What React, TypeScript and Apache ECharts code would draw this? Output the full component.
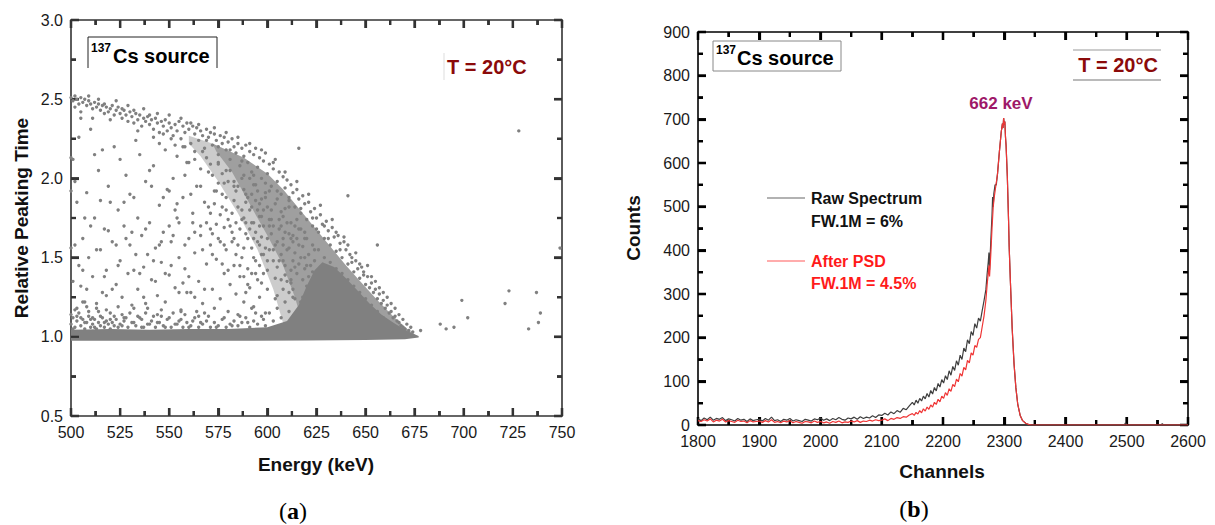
import React, { useEffect, useRef } from "react";
import * as echarts from "echarts";

// ---------- Panel (a): Relative peaking time vs energy ----------
const energyTicks = [500, 525, 550, 575, 600, 625, 650, 675, 700, 725, 750];
const peakingTicks = [0.5, 1.0, 1.5, 2.0, 2.5, 3.0];

// solid core (band at 1.0 + triangle), boundary
const coreUpper: number[][] = [
  [500, 1.045], [520, 1.05], [540, 1.045], [560, 1.05], [580, 1.05], [600, 1.06], [610, 1.1],
  [616, 1.2], [620, 1.32], [624, 1.42], [628, 1.47], [634, 1.44], [640, 1.37], [646, 1.29],
  [652, 1.21], [658, 1.14], [664, 1.09], [670, 1.045], [674, 1.02], [677, 1.005],
];
const coreLower: number[][] = [
  [677, 0.995], [670, 0.985], [650, 0.98], [620, 0.977], [580, 0.975], [540, 0.975], [500, 0.975],
];

// dense region under the upper arc (outer, lighter part and inner, darker part)
const denseUpper: number[][] = [
  [560, 2.27], [572, 2.22], [588, 2.13], [600, 2.03], [608, 1.93], [616, 1.81], [624, 1.69], [632, 1.57],
  [640, 1.45], [648, 1.34], [656, 1.23], [664, 1.13], [672, 1.04], [677, 1.0],
];
const denseOuterInner: number[][] = [
  [610, 1.0], [603, 1.3], [595, 1.55], [585, 1.78], [575, 1.98], [566, 2.14], [560, 2.22],
];
const denseInner: number[][] = [
  [620, 1.0], [614, 1.25], [608, 1.45], [600, 1.64], [590, 1.86], [582, 2.04], [574, 2.17],
];

const upperArc: number[][] = [
  [500,2.51],[501,2.49],[502,2.52],[503,2.50],[504,2.47],[505,2.51],[506,2.48],[507,2.50],[508,2.46],[509,2.49],
  [510,2.47],[511,2.44],[512,2.48],[513,2.45],[514,2.47],[515,2.43],[516,2.46],[517,2.41],[518,2.45],[519,2.42],
  [520,2.44],[521,2.46],[522,2.40],[523,2.43],[524,2.45],[525,2.41],[526,2.38],[527,2.43],[528,2.40],[529,2.36],
  [530,2.42],[531,2.39],[532,2.35],[533,2.41],[534,2.37],[535,2.40],[536,2.33],[537,2.38],[538,2.36],[539,2.39],
  [540,2.34],[541,2.37],[542,2.31],[543,2.38],[544,2.35],[545,2.29],[546,2.36],[547,2.33],[548,2.37],[549,2.30],
  [550,2.35],[551,2.32],[552,2.27],[553,2.34],[554,2.30],[555,2.36],[556,2.25],[557,2.33],[558,2.29],[559,2.35],
  [560,2.31],[561,2.22],[562,2.33],[563,2.28],[564,2.32],[565,2.24],[566,2.30],[567,2.27],[568,2.19],[569,2.31],
  [570,2.26],[571,2.29],[572,2.21],[573,2.28],[574,2.24],[575,2.15],[576,2.27],[577,2.22],[578,2.26],[579,2.18],
  [580,2.23],[581,2.12],[582,2.25],[583,2.20],[584,2.16],[585,2.22],[586,2.08],[587,2.19],[588,2.14],[589,2.21],
  [590,2.10],[591,2.17],[592,2.04],[593,2.15],[594,2.19],[595,2.07],[596,2.13],[597,2.00],[598,2.11],[599,2.16],
  [600,2.03],[601,2.09],[602,1.95],[603,2.06],[604,2.12],[605,1.98],[606,2.04],[607,1.90],[608,2.01],[609,1.94],
  [610,1.99],[611,1.86],[612,1.96],[613,1.91],[614,1.82],[615,1.93],[616,1.87],[617,1.78],[618,1.89],[619,1.84],
  [620,1.74],[621,1.85],[622,1.79],[623,1.70],[624,1.81],[625,1.75],[626,1.66],[627,1.77],[628,1.71],[629,1.62],
  [630,1.73],[631,1.67],[632,1.58],[633,1.69],[634,1.63],[635,1.54],[636,1.64],[637,1.59],[638,1.50],[639,1.60],
  [640,1.55],[641,1.46],[642,1.52],[643,1.47],[644,1.41],[645,1.48],[646,1.43],[647,1.37],[648,1.44],[649,1.39],
  [650,1.33],[651,1.38],[652,1.31],[653,1.34],[654,1.28],[655,1.30],[656,1.24],[657,1.27],[658,1.21],[659,1.23],
  [660,1.18],[661,1.20],[662,1.15],[663,1.16],[664,1.12],[665,1.13],[666,1.10],[667,1.09],[668,1.07],[669,1.06],
  [670,1.05],[672,1.04],[674,1.03],
  [545,2.22],[548,2.18],[551,2.25],[554,2.14],[557,2.20],[560,2.10],[563,2.17],[566,2.06],[569,2.13],[572,2.02],
  [575,2.09],[578,1.97],[581,2.05],[584,1.92],[587,2.00],[590,1.88],[593,1.96],[596,1.84],[599,1.91],[602,1.80],
  [605,1.87],[608,1.76],[611,1.82],[614,1.70],[617,1.68],[620,1.62],[623,1.58],[626,1.55],[629,1.50],[632,1.47],
  [635,1.43],[638,1.40],[641,1.36],[644,1.32],[647,1.28],[650,1.24],[653,1.20],[656,1.16],[659,1.12],[662,1.09],
  [588,1.93],[591,1.80],[594,1.86],[597,1.76],[600,1.82],[603,1.70],[606,1.74],[609,1.66],[612,1.72],[615,1.62],
  [618,1.57],[621,1.52],[624,1.48],[627,1.44],[630,1.39],[633,1.36],[636,1.32],[639,1.29],[642,1.26],[645,1.22],
  [648,1.19],[651,1.15],[654,1.12],[657,1.08],[601,1.92],[604,1.84],[607,1.79],[610,1.72],[613,1.64],[616,1.58],
  [619,1.50],[622,1.45],
  [605,1.60],[607,1.52],[609,1.45],[611,1.56],[613,1.48],[615,1.40],[617,1.50],[619,1.43],[621,1.38],[623,1.41],
  [625,1.35],[627,1.38],[629,1.32],[606,1.68],[608,1.62],[610,1.55],[612,1.42],[614,1.53],[616,1.46],[618,1.36],
  [620,1.32],[603,1.55],[600,1.62],[598,1.70],[596,1.58],[594,1.66],[592,1.72],[590,1.62],[588,1.75],[586,1.68],
  [584,1.72],[582,1.66],[580,1.74],[578,1.69],[576,1.77],[574,1.71],[572,1.65],[585,1.82],[583,1.86],[579,1.80],
  [577,1.90],[573,1.84],[571,1.78],
];

const arcJitter: number[][] = [
  [502,2.45],[505,2.42],[509,2.52],[511,2.38],[514,2.50],[517,2.47],[520,2.37],[523,2.49],[526,2.44],[529,2.46],
  [532,2.43],[534,2.30],[537,2.44],[540,2.40],[542,2.26],[544,2.41],[547,2.28],[550,2.40],[553,2.21],[556,2.38],
  [558,2.20],[561,2.35],[563,2.12],[565,2.34],[567,2.17],[569,2.24],[571,2.09],[573,2.32],[575,2.20],[577,2.03],
  [579,2.29],[581,2.18],[583,1.98],[585,2.26],[587,2.11],[589,1.90],[591,2.22],[593,2.02],[595,1.80],[597,2.18],
  [599,1.97],[601,1.74],[603,2.10],[605,1.92],[607,1.70],[609,2.04],[611,1.88],[613,1.60],[615,1.98],[617,1.81],
  [619,1.66],[621,1.90],[623,1.75],[625,1.68],[627,1.83],[629,1.70],[631,1.62],[633,1.74],[635,1.66],[637,1.55],
  [639,1.63],[641,1.58],[643,1.50],[645,1.53],[647,1.46],[649,1.41],[651,1.45],[653,1.38],[655,1.35],[657,1.31],
  [659,1.28],[661,1.25],[663,1.21],[665,1.18],[667,1.14],[669,1.11],[671,1.08],[673,1.06],
];

const midDense: number[][] = [
  [586,1.45],[588,1.56],[590,1.33],[592,1.82],[594,1.40],[596,1.70],[598,1.52],[600,1.42],[602,1.65],[604,1.37],
  [606,1.48],[608,1.58],[610,1.35],[612,1.62],[614,1.44],[616,1.68],[618,1.25],[620,1.45],[622,1.30],[624,1.55],
  [589,1.28],[593,1.62],[597,1.34],[601,1.55],[605,1.26],[609,1.39],[613,1.30],[617,1.22],[621,1.20],[625,1.25],
  [585,1.95],[589,1.72],[593,1.50],[597,1.87],[601,1.70],[605,1.44],[609,1.81],[611,1.65],[615,1.74],[619,1.62],
  [582,1.78],[578,1.58],[574,1.92],[570,1.82],[566,1.64],[562,1.72],[558,1.58],[554,1.84],[550,1.70],[546,1.60],
  [595,1.60],[599,1.56],[603,1.48],[607,1.36],[611,1.28],[591,1.68],[587,1.80],[583,1.95],[579,2.05],[575,2.10],
  [596,1.76],[592,1.90],[588,2.02],[604,1.58],[608,1.48],[612,1.36],[614,1.24],[602,1.74],[598,1.80],[594,1.96],
];

const interior: number[][] = [
  [501,2.12],[503,1.85],[502,1.58],[504,1.45],[505,1.32],[506,1.62],[508,1.91],[507,1.22],[509,1.50],[510,2.31],
  [511,1.38],[512,1.75],[513,1.18],[514,2.05],[515,1.55],[516,1.28],[517,1.68],[518,1.42],[519,1.95],[520,1.15],
  [521,1.60],[522,2.20],[523,1.33],[524,1.80],[525,1.48],[526,1.25],[527,1.70],[528,2.02],[529,1.40],[530,1.58],
  [531,1.20],[532,1.88],[533,1.52],[534,1.30],[535,2.15],[536,1.64],[537,1.44],[538,1.98],[539,1.18],[540,1.72],
  [541,1.36],[542,2.08],[543,1.56],[544,1.26],[545,1.83],[546,1.47],[547,1.66],[548,1.22],[549,1.93],[550,1.39],
  [551,1.60],[552,2.00],[553,1.31],[554,1.75],[555,1.50],[556,1.16],[557,1.88],[558,1.43],[559,2.10],[560,1.62],
  [561,1.28],[562,1.78],[563,1.53],[564,1.95],[565,1.35],[566,1.70],[567,1.21],[568,1.85],[569,1.46],[570,2.04],
  [571,1.58],[572,1.30],[573,1.92],[574,1.49],[575,1.62],[576,1.24],[577,1.82],[578,1.40],[579,1.55],[580,1.98],
  [581,1.33],[582,1.60],[583,1.45],[584,1.27],[585,1.58],[586,1.38],[587,1.50],[588,1.22],[589,1.65],[590,1.43],
  [591,1.31],[592,1.56],[593,1.19],[594,1.48],[595,1.36],[596,1.25],[597,1.52],[598,1.40],[599,1.15],[600,1.30],
  [504,2.26],[512,2.15],[518,1.26],[527,1.12],[533,2.24],[536,1.11],[541,1.95],[546,1.13],[552,1.64],[557,1.34],
  [561,1.90],[565,1.13],[569,1.72],[573,1.18],[577,1.46],[581,1.70],[585,1.14],[589,1.85],[593,1.72],[597,1.63],
  [599,1.88],[595,1.92],[591,2.00],[587,1.74],[583,1.62],[579,1.88],[575,1.97],[571,1.68],[567,1.55],[563,1.66],
  [559,1.28],[555,1.72],[551,1.45],[547,1.88],[543,1.35],[539,1.52],[535,1.40],[531,1.66],[527,1.85],[523,1.58],
  [519,1.67],[515,1.86],[511,1.12],[507,1.75],[503,1.13],
  [500,1.92],[501,1.35],[502,1.98],[505,2.38],[506,1.42],[508,1.30],[510,1.70],[513,1.55],[516,2.18],[517,1.38],
  [520,1.85],[521,1.30],[524,1.45],[525,2.12],[528,1.62],[530,1.90],[532,1.42],[534,1.75],[537,1.25],[538,1.68],
  [540,2.05],[542,1.48],[545,1.58],[548,1.40],[550,1.92],[553,1.80],[555,1.28],[558,2.02],[560,1.38],[563,1.25],
  [566,1.95],[568,1.30],[572,1.52],[576,1.60],[580,1.42],[584,1.52],[588,1.38],[592,1.40],[596,1.45],[600,1.48],
];

const fuzz: number[][] = [
  [500,1.08],[501,1.12],[502,1.06],[503,1.10],[504,1.15],[505,1.07],[506,1.11],[507,1.05],[508,1.09],[509,1.13],
  [510,1.06],[511,1.08],[512,1.11],[513,1.05],[514,1.09],[515,1.07],[516,1.12],[517,1.06],[518,1.10],[519,1.08],
  [520,1.05],[521,1.09],[522,1.07],[523,1.11],[524,1.06],[525,1.08],[527,1.10],[529,1.06],[531,1.09],[533,1.07],
  [535,1.12],[537,1.06],[539,1.08],[541,1.10],[543,1.06],[545,1.09],[547,1.07],[549,1.11],[551,1.06],[553,1.08],
  [555,1.10],[557,1.06],[559,1.09],[561,1.07],[563,1.12],[565,1.06],[567,1.08],[569,1.10],[571,1.06],[573,1.09],
  [575,1.07],[577,1.11],[579,1.06],[581,1.08],[583,1.10],[585,1.07],[587,1.09],[589,1.12],[591,1.06],[593,1.10],
  [595,1.08],[597,1.13],[599,1.07],[601,1.15],[603,1.10],[605,1.18],[607,1.12],[609,1.22],[611,1.16],[613,1.25],
  [502,1.17],[508,1.19],[514,1.16],[526,1.14],[532,1.18],[538,1.15],[544,1.14],[556,1.17],[568,1.15],[580,1.16],
  [592,1.18],[604,1.24],[608,1.30],[612,1.34],
  [500,1.14],[501,1.05],[503,1.18],[505,1.12],[506,1.22],[507,1.09],[509,1.16],[510,1.11],[512,1.06],[513,1.21],
  [515,1.13],[517,1.09],[518,1.17],[520,1.11],[522,1.13],[524,1.19],[526,1.07],[528,1.12],[530,1.15],[532,1.09],
  [534,1.13],[536,1.06],[538,1.21],[540,1.08],[542,1.13],[544,1.09],[546,1.17],[548,1.06],[550,1.12],[552,1.15],
  [554,1.08],[556,1.11],[558,1.14],[560,1.06],[562,1.10],[564,1.16],[566,1.09],[570,1.13],[574,1.06],[578,1.12],
  [582,1.07],[586,1.13],[590,1.09],[594,1.15],[598,1.11],
];

const outliers: number[][] = [
  [500,2.13],[500,1.56],[616,2.19],[641,1.89],[656,1.58],[678,1.04],[688,1.08],[691,1.05],[695,1.06],[699,1.23],
  [702,1.12],[721,1.21],[723,1.29],[728,2.30],[733,1.05],[737,1.28],[738,1.09],[739,1.15],[749,1.56],
];

// ---------- Panel (b): spectra ----------
const channelTicks = [1800, 1900, 2000, 2100, 2200, 2300, 2400, 2500, 2600];
const countTicks = [0, 100, 200, 300, 400, 500, 600, 700, 800, 900];

const rawSpectrum: number[][] = [
  [1800,14],[1805,10],[1810,16],[1815,12],[1820,18],[1825,11],[1830,15],[1835,13],[1840,17],[1845,10],
  [1850,14],[1855,12],[1860,9],[1865,15],[1870,11],[1875,13],[1880,8],[1885,14],[1890,10],[1895,12],
  [1900,13],[1905,9],[1910,15],[1915,11],[1920,18],[1925,10],[1930,12],[1935,8],[1940,13],[1945,11],
  [1950,15],[1955,9],[1960,12],[1965,10],[1970,8],[1975,13],[1980,11],[1985,9],[1990,14],[1995,12],
  [2000,16],[2005,11],[2010,14],[2015,10],[2020,15],[2025,12],[2030,17],[2035,13],[2040,11],[2045,16],
  [2050,14],[2055,18],[2060,13],[2065,19],[2070,15],[2075,18],[2080,16],[2085,21],[2090,17],[2095,23],
  [2100,22],[2105,27],[2110,23],[2115,30],[2120,26],[2125,33],[2130,29],[2135,38],[2140,35],[2145,44],
  [2150,52],[2153,46],[2156,57],[2159,50],[2162,61],[2165,55],[2168,66],[2171,60],[2174,72],[2177,64],
  [2180,79],[2183,71],[2186,86],[2189,78],[2192,95],[2195,87],[2198,104],[2201,96],[2204,113],[2207,104],
  [2210,124],[2213,114],[2216,134],[2219,125],[2222,147],[2225,137],[2228,160],[2231,150],[2234,176],[2237,168],
  [2240,195],[2243,186],[2246,214],[2249,205],[2252,232],[2255,222],[2258,245],[2261,238],[2264,262],[2267,285],
  [2270,310],[2272,345],[2274,375],[2275,395],[2276,355],[2278,420],[2280,480],[2281,522],[2282,500],[2283,530],
  [2285,550],[2287,550],[2289,575],[2292,625],[2295,670],[2297,690],[2298,680],[2299,703],[2300,688],[2301,695],
  [2302,660],[2303,640],[2305,570],[2307,470],[2308,410],[2310,330],[2313,220],[2316,140],[2319,85],[2322,48],
  [2326,22],[2330,10],[2335,4],[2340,1],[2345,0],[2400,0],[2496,0],[2498,5],[2500,0],[2556,0],[2558,3],[2560,0],[2600,0],
];

const psdSpectrum: number[][] = [
  [1800,10],[1805,8],[1810,12],[1815,9],[1820,14],[1825,7],[1830,11],[1835,9],[1840,13],[1845,7],
  [1850,10],[1855,8],[1860,6],[1865,11],[1870,8],[1875,9],[1880,5],[1885,10],[1890,7],[1895,8],
  [1900,9],[1905,6],[1910,10],[1915,7],[1920,12],[1925,6],[1930,8],[1935,5],[1940,9],[1945,7],
  [1950,10],[1955,5],[1960,8],[1965,6],[1970,4],[1975,8],[1980,7],[1985,5],[1990,9],[1995,6],
  [2000,8],[2005,5],[2010,7],[2015,4],[2020,8],[2025,6],[2030,9],[2035,5],[2040,7],[2045,6],
  [2050,9],[2055,7],[2060,10],[2065,6],[2070,9],[2075,8],[2080,11],[2085,9],[2090,12],[2095,10],
  [2100,11],[2105,14],[2110,10],[2115,15],[2120,13],[2125,17],[2130,15],[2135,19],[2140,18],[2145,23],
  [2150,26],[2153,22],[2156,29],[2159,25],[2162,33],[2165,28],[2168,37],[2171,32],[2174,41],[2177,36],
  [2180,46],[2183,41],[2186,52],[2189,47],[2192,59],[2195,53],[2198,66],[2201,61],[2204,74],[2207,68],
  [2210,83],[2213,77],[2216,93],[2219,88],[2222,105],[2225,99],[2228,118],[2231,112],[2234,132],[2237,126],
  [2240,148],[2243,142],[2246,165],[2249,160],[2252,182],[2255,178],[2258,196],[2261,200],[2264,225],[2267,250],
  [2270,285],[2272,320],[2274,350],[2275,365],[2276,340],[2278,390],[2280,450],[2282,500],[2284,525],[2286,545],
  [2289,575],[2292,625],[2295,670],[2297,690],[2298,680],[2299,703],[2300,688],[2301,695],[2302,660],[2303,640],
  [2305,570],[2307,470],[2308,410],[2310,330],[2313,220],[2316,140],[2319,85],[2322,48],[2326,22],[2330,10],
  [2335,4],[2340,1],[2345,0],[2600,0],
];

const SANS = "'Liberation Sans', Arial, sans-serif";
const SERIF = "'Liberation Serif', 'DejaVu Serif', serif";
const MAJOR = 8;
const MINOR = 5;
const TW = 2.2;

function axis(
  gridIndex: number,
  position: string,
  ticks: number[],
  showLabel: boolean,
  color: string,
  formatter?: (v: number) => string
) {
  return {
    type: "value",
    gridIndex,
    position,
    min: ticks[0],
    max: ticks[ticks.length - 1],
    interval: ticks[1] - ticks[0],
    axisLine: { show: true, onZero: false, lineStyle: { color, width: 1.6 } },
    axisTick: { show: true, inside: true, length: MAJOR, lineStyle: { color, width: TW } },
    minorTick: { show: true, splitNumber: 2, length: MINOR, lineStyle: { color, width: 1.6 } },
    splitLine: { show: false },
    minorSplitLine: { show: false },
    axisLabel: {
      show: showLabel,
      color: "#1a1a1a",
      fontSize: 16,
      fontFamily: SANS,
      margin: 8,
      formatter,
    },
  };
}

// tick rectangles (inward) for all four sides, from a point-to-pixel function
function tickRects(px: (p: number[]) => number[], xT: number[], yT: number[], color: string) {
  const out: any[] = [];
  const x0 = xT[0], x1 = xT[xT.length - 1];
  const y0 = yT[0], y1 = yT[yT.length - 1];
  const rect = (x: number, y: number, w: number, h: number) =>
    out.push({ type: "rect", silent: true, shape: { x, y, width: w, height: h }, style: { fill: color } });
  const addX = (v: number, len: number) => {
    const b = px([v, y0]);
    const t = px([v, y1]);
    rect(b[0] - TW / 2, b[1] - len, TW, len);
    rect(t[0] - TW / 2, t[1], TW, len);
  };
  const addY = (v: number, len: number) => {
    const l = px([x0, v]);
    const r = px([x1, v]);
    rect(l[0], l[1] - TW / 2, len, TW);
    rect(r[0] - len, r[1] - TW / 2, len, TW);
  };
  xT.forEach((v, i) => {
    addX(v, MAJOR);
    if (i < xT.length - 1) addX((v + xT[i + 1]) / 2, MINOR);
  });
  yT.forEach((v, i) => {
    addY(v, MAJOR);
    if (i < yT.length - 1) addY((v + yT[i + 1]) / 2, MINOR);
  });
  return out;
}

function tickSeries(axisIdx: number, xT: number[], yT: number[], color: string, mid: number[]) {
  return {
    type: "custom",
    xAxisIndex: axisIdx,
    yAxisIndex: axisIdx,
    silent: true,
    data: [mid],
    encode: { x: 0, y: 1 },
    renderItem: (_p: any, api: any) => ({
      type: "group",
      children: tickRects((p) => api.coord(p), xT, yT, color),
    }),
  };
}

export default function App() {
  const ref = useRef<HTMLDivElement>(null);

  useEffect(() => {
    document.body.style.margin = "0";
    const chart = echarts.init(ref.current!, null, { renderer: "svg" });
    const fmt1 = (v: number) => v.toFixed(1);
    const fmt0 = (v: number) => String(v);
    const core = [...coreUpper, ...coreLower];
    const denseOuter = [...denseUpper, ...denseOuterInner];
    const dense = [...denseUpper.slice(1), ...denseInner];
    const scatterPts = [...upperArc, ...arcJitter, ...midDense, ...interior, ...fuzz, ...outliers];

    const titleStyle = { fontFamily: SANS, fontWeight: "bold", fontSize: 19, fill: "#111" };
    const polySeries = (pts: number[][], fill: string, opacity: number) => ({
      type: "custom",
      xAxisIndex: 0,
      yAxisIndex: 0,
      silent: true,
      data: [[600, 1]],
      encode: { x: 0, y: 1 },
      renderItem: (_p: any, api: any) => ({
        type: "polygon",
        shape: { points: pts.map((pt) => api.coord(pt)) },
        style: { fill, opacity },
      }),
    });

    const staticGraphics: any[] = [
      // Panel (a) titles
      { type: "text", x: 21, y: 218, rotation: Math.PI / 2, style: { ...titleStyle, text: "Relative Peaking Time", textAlign: "center", textVerticalAlign: "middle" } },
      { type: "text", x: 316, y: 464, style: { ...titleStyle, text: "Energy (keV)", textAlign: "center", textVerticalAlign: "middle" } },
      // Panel (a) source box (top, left and right edges)
      { type: "polyline", shape: { points: [[88, 68], [88, 37], [217, 37], [217, 68]] }, style: { stroke: "#222", lineWidth: 1, fill: "none" } },
      { type: "text", x: 91, y: 48, style: { text: "137", fontFamily: SANS, fontWeight: "bold", fontSize: 12, fill: "#000", textVerticalAlign: "middle" } },
      { type: "text", x: 113, y: 56, style: { text: "Cs source", fontFamily: SANS, fontWeight: "bold", fontSize: 20, fill: "#000", textVerticalAlign: "middle" } },
      { type: "line", shape: { x1: 444, y1: 53, x2: 444, y2: 80 }, style: { stroke: "#dddddd", lineWidth: 1 } },
      { type: "text", x: 447, y: 67, style: { text: "T = 20°C", fontFamily: SANS, fontWeight: "bold", fontSize: 20, fill: "#8b0a0a", textVerticalAlign: "middle" } },
      {
        type: "text", x: 293, y: 511,
        style: {
          text: "{p|(}{b|a}{p|)}", textAlign: "center", textVerticalAlign: "middle",
          rich: {
            p: { fontFamily: SERIF, fontSize: 24, fill: "#000" },
            b: { fontFamily: SERIF, fontSize: 24, fontWeight: "bold", fill: "#000" },
          },
        },
      },
      // Panel (b) titles
      { type: "text", x: 633, y: 228, rotation: Math.PI / 2, style: { ...titleStyle, text: "Counts", textAlign: "center", textVerticalAlign: "middle" } },
      { type: "text", x: 942, y: 471, style: { ...titleStyle, text: "Channels", textAlign: "center", textVerticalAlign: "middle" } },
      { type: "rect", shape: { x: 713, y: 41, width: 128, height: 30 }, style: { stroke: "#888", lineWidth: 1, fill: "none" } },
      { type: "text", x: 716, y: 50, style: { text: "137", fontFamily: SANS, fontWeight: "bold", fontSize: 12, fill: "#000", textVerticalAlign: "middle" } },
      { type: "text", x: 737, y: 58, style: { text: "Cs source", fontFamily: SANS, fontWeight: "bold", fontSize: 20, fill: "#000", textVerticalAlign: "middle" } },
      { type: "line", shape: { x1: 1073, y1: 50, x2: 1161, y2: 50 }, style: { stroke: "#999", lineWidth: 1 } },
      { type: "line", shape: { x1: 1073, y1: 80, x2: 1161, y2: 80 }, style: { stroke: "#777", lineWidth: 1.2 } },
      { type: "text", x: 1118, y: 65, style: { text: "T = 20°C", fontFamily: SANS, fontWeight: "bold", fontSize: 20, fill: "#8b0a0a", textAlign: "center", textVerticalAlign: "middle" } },
      { type: "text", x: 1001, y: 103, style: { text: "662 keV", fontFamily: SANS, fontWeight: "bold", fontSize: 17, fill: "#9e1868", textAlign: "center", textVerticalAlign: "middle" } },
      // legend
      { type: "line", shape: { x1: 767, y1: 198, x2: 805, y2: 198 }, style: { stroke: "#666", lineWidth: 1.2 } },
      { type: "text", x: 811, y: 198, style: { text: "Raw Spectrum", fontFamily: SANS, fontWeight: "bold", fontSize: 16, fill: "#111", textVerticalAlign: "middle" } },
      { type: "text", x: 811, y: 221, style: { text: "FW.1M = 6%", fontFamily: SANS, fontWeight: "bold", fontSize: 16, fill: "#111", textVerticalAlign: "middle" } },
      { type: "line", shape: { x1: 767, y1: 261, x2: 805, y2: 261 }, style: { stroke: "#ff5a5a", lineWidth: 1.2 } },
      { type: "text", x: 811, y: 261, style: { text: "After PSD", fontFamily: SANS, fontWeight: "bold", fontSize: 16, fill: "#ff1a1a", textVerticalAlign: "middle" } },
      { type: "text", x: 811, y: 283, style: { text: "FW.1M = 4.5%", fontFamily: SANS, fontWeight: "bold", fontSize: 16, fill: "#ff1a1a", textVerticalAlign: "middle" } },
      {
        type: "text", x: 914, y: 509,
        style: {
          text: "{p|(}{b|b}{p|)}", textAlign: "center", textVerticalAlign: "middle",
          rich: {
            p: { fontFamily: SERIF, fontSize: 24, fill: "#000" },
            b: { fontFamily: SERIF, fontSize: 24, fontWeight: "bold", fill: "#000" },
          },
        },
      },
    ];

    const option: any = {
      animation: false,
      backgroundColor: "#fff",
      grid: [
        { left: 71, top: 20, width: 491, height: 396 },
        { left: 698, top: 32, width: 490, height: 393 },
      ],
      xAxis: [
        axis(0, "bottom", energyTicks, true, "#333", fmt0),
        axis(0, "top", energyTicks, false, "#333"),
        axis(1, "bottom", channelTicks, true, "#000", fmt0),
        axis(1, "top", channelTicks, false, "#000"),
      ],
      yAxis: [
        axis(0, "left", peakingTicks, true, "#333", fmt1),
        axis(0, "right", peakingTicks, false, "#333"),
        axis(1, "left", countTicks, true, "#000", fmt0),
        axis(1, "right", countTicks, false, "#000"),
      ],
      series: [
        polySeries(denseOuter, "#808080", 0.4),
        polySeries(dense, "#808080", 0.6),
        polySeries(core, "#808080", 1),
        {
          type: "scatter",
          xAxisIndex: 0,
          yAxisIndex: 0,
          silent: true,
          symbol: "circle",
          symbolSize: 3.4,
          itemStyle: { color: "#808080", opacity: 1 },
          data: scatterPts,
        },
        {
          type: "line",
          xAxisIndex: 2,
          yAxisIndex: 2,
          silent: true,
          symbol: "none",
          lineStyle: { color: "#3f3f3f", width: 1.2 },
          data: rawSpectrum,
        },
        {
          type: "line",
          xAxisIndex: 2,
          yAxisIndex: 2,
          silent: true,
          symbol: "none",
          lineStyle: { color: "#ef3535", width: 1.2 },
          data: psdSpectrum,
        },
        tickSeries(0, energyTicks, peakingTicks, "#333", [600, 1.5]),
        tickSeries(2, channelTicks, countTicks, "#000", [2200, 450]),
      ],
      graphic: staticGraphics,
    };
    chart.setOption(option);

    try {
      const ticks = [
        ...tickRects((p) => chart.convertToPixel({ xAxisIndex: 0, yAxisIndex: 0 }, p) as any, energyTicks, peakingTicks, "#333"),
        ...tickRects((p) => chart.convertToPixel({ xAxisIndex: 2, yAxisIndex: 2 }, p) as any, channelTicks, countTicks, "#000"),
      ];
      chart.setOption({ graphic: [...staticGraphics, ...ticks] });
    } catch (e) {
      // ticks are also drawn by the custom series and the axes
    }

    return () => chart.dispose();
  }, []);

  return <div ref={ref} style={{ width: 1215, height: 525, background: "#fff" }} />;
}
